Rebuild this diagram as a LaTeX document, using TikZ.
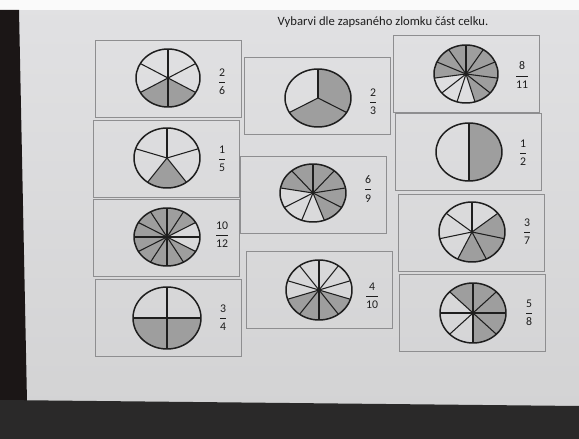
\documentclass[tikz,border=0pt]{standalone}
\usepackage{fontspec}
\setmainfont{Carlito}
\usepackage{amsmath}
\usetikzlibrary{positioning}

\definecolor{paperA}{HTML}{E1E1E3}
\definecolor{paperB}{HTML}{D2D2D3}
\definecolor{desk}{HTML}{1B1616}
\definecolor{floor}{HTML}{2A2929}
\definecolor{cardline}{HTML}{8E8E90}
\definecolor{ink}{HTML}{1E1E1E}

\tikzset{
  card/.style={draw=cardline, line width=0.5pt, minimum width=2.92cm, minimum height=1.54cm, inner sep=0pt},
  frc/.style={font=\fontsize{6.7}{7}\selectfont, text=ink, inner sep=0pt},
  head/.style={font=\fontsize{7.2}{8}\selectfont, text=ink, inner sep=0pt},
  pencil/.style={fill=black!38},
  spoke/.style={draw=ink, line width=0.6pt},
  rim/.style={draw=ink, line width=0.85pt}
}

% cx, cy, rx, ry, parts, first spoke angle, shaded parts
\newcommand{\pie}[7]{%
  \begin{scope}[shift={(#1,#2)}, xscale=#3, yscale=-#4]
    \pgfmathsetmacro{\stp}{360/#5}
    \foreach \k in {#7}
      \fill[pencil] (0,0) -- ({#6+\k*\stp}:1) arc[start angle={#6+\k*\stp}, end angle={#6+(\k+1)*\stp}, radius=1] -- cycle;
    \foreach \k in {1,...,#5}
      \draw[spoke] (0,0) -- ({#6+\k*\stp}:1);
    \draw[rim] (0,0) circle[radius=1];
  \end{scope}}
\newcommand{\frc}[2]{$\dfrac{\mbox{#1}}{\mbox{#2}}$}

\begin{document}
\begin{tikzpicture}[x=0.02cm, y=-0.02cm]
        \useasboundingbox (0,0) rectangle (579,439);
        
        % the photo round the sheet
        \shade[top color=paperA, bottom color=paperB] (0,0) rectangle (579,439);
        \fill[white!96!gray] (0,0) rectangle (579,10);
        \fill[desk] (0,10) -- (19,10) -- (27,402) -- (0,402) -- cycle;
        \fill[floor] (0,400) -- (579,406) -- (579,439) -- (0,439) -- cycle;
        
        \node[head] (title) at (383,22) {Vybarvi dle zapsaného zlomku část celku.};
        
        \begin{scope}
        \node[card] (k26) at (168.5,79) {};
        \node[card] (k15) at (166,159) {};
        \node[card] (k1012) at (166.5,237.5) {};
        \node[card] (k34) at (168.5,318) {};
        \node[card] (k23) at (317.5,95.5) {};
        \node[card] (k69) at (313.5,195) {};
        \node[card] (k410) at (319,290) {};
        \node[card] (k811) at (466,73.5) {};
        \node[card] (k12) at (468.5,151.5) {};
        \node[card] (k37) at (471,232.5) {};
        \node[card] (k58) at (472.5,312.5) {};
        \end{scope}
        
        \pie{168}{78}{32}{29}{6}{90}{2,3}
        \pie{167}{158}{33}{30}{5}{90}{2}
        \pie{167}{237}{33}{29}{12}{90}{0,1,2,3,4,5,6,7,10,11}
        \pie{167}{318}{34}{31}{4}{0}{2,3}
        \pie{318}{98}{33}{29}{3}{90}{1,2}
        \pie{313}{193}{33}{29}{9}{90}{0,1,5,6,7,8}
        \pie{319}{290}{33}{30}{10}{90}{3,4,5,6}
        \pie{466}{74}{32}{29}{11}{90}{0,1,2,6,7,8,9,10}
        \pie{469}{152}{33}{29}{2}{90}{1}
        \pie{472}{232}{33}{30}{7}{90}{3,4,5}
        \pie{473}{313}{33}{30}{8}{0}{0,1,2,6,7}
        
        \node[frc] (f26) at (222,82) {\frc{2}{6}};
        \node[frc] (f15) at (222,159) {\frc{1}{5}};
        \node[frc] (f1012) at (222,235) {\frc{10}{12}};
        \node[frc] (f34) at (223,318) {\frc{3}{4}};
        \node[frc] (f23) at (373,102) {\frc{2}{3}};
        \node[frc] (f69) at (368,189) {\frc{6}{9}};
        \node[frc] (f410) at (372,296) {\frc{4}{10}};
        \node[frc] (f811) at (522,75) {\frc{8}{11}};
        \node[frc] (f12) at (523,153) {\frc{1}{2}};
        \node[frc] (f37) at (527,232) {\frc{3}{7}};
        \node[frc] (f58) at (529,313) {\frc{5}{8}};
        
\end{tikzpicture}
\end{document}
